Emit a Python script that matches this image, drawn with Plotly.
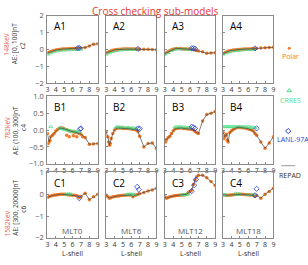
import plotly.graph_objects as go

W, H = 308, 265

panels = ["A1", "A2", "A3", "A4", "B1", "B2", "B3", "B4", "C1", "C2", "C3", "C4"]
mlt_labels = ["MLT0", "MLT6", "MLT12", "MLT18"]
energy_labels = ["148keV", "782keV", "1582keV"]
ae_labels = ["AE: [0, 100]nT", "AE: (100, 300]nT", "AE: [300, 20000]nT"]
coef_labels = ["c2", "c4", "c6"]
x_ticks = [3, 4, 5, 6, 7, 8, 9]
y_ticks_A = [-2, -1, 0, 1, 2]
y_ticks_B = [-1.0, -0.5, 0.0, 0.5, 1.0]
y_ticks_C = [-2, -1, 0, 1]

# REPAD model curve (and Polar points on it), on a common L grid
L_grid = [3.0, 3.2, 3.4, 3.6, 3.8, 4.0, 4.2, 4.4, 4.6, 4.8, 5.0, 5.2, 5.4,
          5.6, 5.8, 6.0, 6.2, 6.4, 6.6, 6.8, 7.0, 7.5, 8.0, 8.5, 9.0]
repad = {
    "A1": [-0.22, -0.18, -0.14, -0.10, -0.07, -0.05, -0.03, -0.01, 0.00, 0.01, 0.02, 0.02, 0.03,
           0.03, 0.04, 0.04, 0.05, 0.05, 0.06, 0.07, 0.08, 0.10, 0.20, 0.30, 0.32],
    "A2": [-0.22, -0.18, -0.13, -0.09, -0.06, -0.04, -0.02, -0.01, 0.00, 0.00, 0.01, 0.01, 0.01,
           0.01, 0.01, 0.01, 0.01, 0.01, 0.01, 0.01, 0.00, 0.00, 0.00, -0.02, -0.03],
    "A3": [-0.25, -0.20, -0.14, -0.08, -0.03, 0.00, 0.03, 0.05, 0.05, 0.04, 0.03, 0.02, 0.02,
           0.01, 0.00, 0.00, -0.01, -0.02, -0.04, -0.07, -0.10, -0.15, -0.24, -0.22, -0.20],
    "A4": [-0.25, -0.20, -0.16, -0.12, -0.09, -0.07, -0.05, -0.04, -0.03, -0.02, -0.01, 0.00, 0.00,
           0.01, 0.01, 0.02, 0.02, 0.03, 0.03, 0.04, 0.05, 0.07, 0.09, 0.11, 0.12],
    "B1": [-0.10, -0.35, -0.20, -0.15, -0.10, -0.03, 0.02, 0.05, 0.06, 0.06, 0.04, 0.02, 0.00,
           -0.02, -0.04, -0.05, -0.06, -0.07, -0.08, -0.10, -0.12, -0.22, -0.42, -0.41, -0.40],
    "B2": [-0.05, -0.20, -0.45, -0.25, -0.10, 0.00, 0.05, 0.06, 0.06, 0.06, 0.05, 0.05, 0.05,
           0.05, 0.04, 0.03, 0.02, 0.02, 0.00, -0.05, -0.18, -0.50, -0.40, -0.38, -0.55],
    "B3": [-0.30, -0.28, -0.22, -0.18, -0.10, -0.02, 0.03, 0.05, 0.06, 0.06, 0.06, 0.05, 0.05,
           0.04, 0.03, 0.03, 0.02, 0.00, -0.04, -0.08, -0.10, 0.27, 0.46, 0.50, 0.55],
    "B4": [-0.07, -0.20, -0.12, -0.35, -0.07, -0.02, 0.02, 0.05, 0.07, 0.08, 0.08, 0.07, 0.07,
           0.06, 0.05, 0.04, 0.02, 0.00, -0.03, -0.10, -0.15, -0.35, -0.54, -0.38, -0.20],
    "C1": [-0.15, -0.10, -0.08, -0.06, -0.04, -0.03, -0.02, -0.01, 0.00, 0.00, 0.00, -0.01, -0.02,
           -0.03, -0.04, -0.05, -0.05, -0.06, -0.08, -0.15, -0.10, 0.05, -0.25, -0.12, 0.00],
    "C2": [-0.05, -0.12, -0.18, -0.15, -0.12, -0.10, -0.09, -0.08, -0.07, -0.06, -0.05, -0.05, -0.04,
           -0.04, -0.03, -0.03, -0.12, -0.05, -0.03, 0.00, 0.02, 0.08, 0.15, 0.20, 0.28],
    "C3": [-0.12, -0.18, -0.15, -0.12, -0.10, -0.08, -0.07, -0.06, -0.05, -0.05, -0.04, -0.03, -0.02,
           0.00, 0.08, 0.12, 0.20, 0.45, 0.65, 0.80, 0.87, 0.87, 0.76, 0.58, 0.40],
    "C4": [-0.02, -0.04, -0.05, -0.05, -0.04, -0.03, -0.02, -0.01, 0.00, 0.00, 0.00, 0.00, -0.01,
           -0.01, -0.02, -0.02, -0.03, -0.04, -0.05, -0.10, -0.05, -0.18, 0.00, 0.12, 0.28],
}

# Polar observations: on the REPAD grid plus scattered outliers
polar_extra_L = {
    "A1": [], "A2": [], "A3": [], "A4": [],
    "B1": [3.1, 3.3, 5.3, 5.6, 6.1, 6.5, 7.2],
    "B2": [3.3, 3.5],
    "B3": [3.1],
    "B4": [3.1, 3.3, 3.5],
    "C1": [], "C2": [], "C3": [], "C4": [],
}
polar_extra_v = {
    "A1": [], "A2": [], "A3": [], "A4": [],
    "B1": [-0.40, -0.30, -0.15, -0.20, -0.17, -0.20, -0.20],
    "B2": [-0.35, -0.40],
    "B3": [-0.35],
    "B4": [-0.25, -0.15, -0.30],
    "C1": [], "C2": [], "C3": [], "C4": [],
}

# CRRES
crres_L = {
    "A1": [3.0, 3.4, 3.8, 4.2, 4.6, 5.0, 5.4, 5.8, 6.2, 6.6, 7.0],
    "A2": [3.0, 3.4, 3.8, 4.2, 4.6, 5.0, 5.4, 5.8, 6.2, 6.6],
    "A3": [3.0, 3.4, 3.8, 4.2, 4.6, 5.0, 5.4, 5.8, 6.2],
    "A4": [3.0, 3.4, 3.8, 4.2, 4.6, 5.0, 5.4, 5.8, 6.2, 6.6],
    "B1": [3.4, 4.4, 4.6, 4.8, 5.0, 5.2, 5.4, 5.6, 5.8, 6.0, 6.2, 6.4, 6.6, 6.8],
    "B2": [4.2, 4.4, 4.6, 4.8, 5.0, 5.2, 5.4, 5.6, 5.8, 6.0, 6.2, 6.4, 6.6],
    "B3": [4.2, 4.4, 4.6, 4.8, 5.0, 5.2, 5.4, 5.6, 5.8, 6.0],
    "B4": [3.0, 3.2, 3.4, 3.6, 3.8, 4.0, 4.2, 4.4, 4.6, 4.8, 5.0, 5.2, 5.4, 5.6, 5.8, 6.0,
           6.2, 6.4, 6.6, 6.8],
    "C1": [5.2, 5.4, 5.6, 5.8],
    "C2": [5.4, 5.6, 5.8, 6.0, 6.2, 6.4],
    "C3": [5.0, 5.2, 5.4, 5.6, 5.8],
    "C4": [3.0, 3.2, 3.4, 4.4, 4.6, 4.8, 5.0, 5.8, 6.2, 6.6],
}
crres_v = {
    "A1": [-0.30, -0.22, -0.15, -0.10, -0.07, -0.05, -0.04, -0.03, -0.02, -0.01, 0.00],
    "A2": [-0.30, -0.22, -0.14, -0.08, -0.05, -0.03, -0.02, -0.01, -0.01, -0.01],
    "A3": [-0.30, -0.20, -0.08, 0.00, 0.02, 0.01, 0.00, -0.01, -0.02],
    "A4": [-0.30, -0.22, -0.16, -0.11, -0.08, -0.06, -0.04, -0.03, -0.02, -0.01],
    "B1": [0.10, 0.06, 0.05, 0.04, 0.02, 0.01, 0.00, -0.02, -0.03, -0.04, -0.04, -0.05, -0.05, -0.06],
    "B2": [0.09, 0.09, 0.08, 0.08, 0.08, 0.07, 0.07, 0.07, 0.06, 0.06, 0.06, 0.05, 0.05],
    "B3": [0.09, 0.09, 0.09, 0.09, 0.08, 0.08, 0.08, 0.07, 0.07, 0.07],
    "B4": [0.10, 0.10, 0.10, 0.10, 0.10, 0.10, 0.10, 0.10, 0.10, 0.10, 0.10, 0.10, 0.09, 0.09,
           0.09, 0.09, 0.09, 0.08, 0.08, 0.07],
    "C1": [0.00, 0.00, 0.01, 0.00],
    "C2": [-0.02, -0.01, 0.00, 0.00, -0.01, -0.02],
    "C3": [-0.03, -0.02, -0.02, -0.01, 0.00],
    "C4": [-0.02, -0.03, -0.03, 0.00, 0.01, 0.00, 0.00, -0.02, -0.02, -0.03],
}

# LANL-97A
lanl_L = {
    "A1": [6.6, 6.8], "A2": [6.8], "A3": [6.2, 6.4, 6.6], "A4": [6.8],
    "B1": [6.9, 7.0], "B2": [6.8, 7.0], "B3": [6.2, 6.4, 6.6], "B4": [7.0],
    "C1": [6.8], "C2": [6.7, 6.9], "C3": [6.2, 6.5, 6.7], "C4": [6.8, 7.0],
}
lanl_v = {
    "A1": [0.06, 0.08], "A2": [0.02], "A3": [0.06, 0.06, 0.04], "A4": [0.05],
    "B1": [0.03, 0.05], "B2": [0.05, 0.04], "B3": [0.10, 0.08, 0.05], "B4": [0.05],
    "C1": [-0.18], "C2": [0.34, 0.21], "C3": [0.14, 0.41, 0.67], "C4": [-0.05, 0.25],
}

ORANGE = "#f07c2c"
GREEN = "#4fe08a"
BLUE = "#2a3fd0"
LINE = "#444444"
RED = "#e8352c"
RED_L = "#ee5a55"

# layout geometry (pixels)
col_left = [46, 105.5, 165, 224]
col_w = 51
rows = [(11, 81), (95, 165), (174, 242)]
y_ranges = [[-2, 2], [-1, 1], [-2, 1]]
y_tickvals = [y_ticks_A, y_ticks_B, y_ticks_C]

fig = go.Figure()
layout = dict(width=W, height=H, margin=dict(l=0, r=0, t=0, b=0),
              paper_bgcolor="white", plot_bgcolor="rgba(0,0,0,0)", showlegend=False,
              font=dict(family="Open Sans", size=8, color="#333"))
annotations = []

for i, p in enumerate(panels):
    r, c = divmod(i, 4)
    n = i + 1
    xa = "x" if n == 1 else f"x{n}"
    ya = "y" if n == 1 else f"y{n}"
    top, bot = rows[r]
    layout["xaxis" if n == 1 else f"xaxis{n}"] = dict(
        domain=[col_left[c] / W, (col_left[c] + col_w) / W], anchor=ya,
        range=[3, 9], tickvals=x_ticks, showgrid=False, zeroline=False,
        showline=True, mirror=True, linecolor="#8a8a8a", linewidth=1,
        ticks="inside", ticklen=2, tickcolor="#8a8a8a",
        tickfont=dict(size=7, color="#333"), ticklabelstandoff=0)
    ydict = dict(
        domain=[1 - bot / H, 1 - top / H], anchor=xa, range=y_ranges[r],
        tickvals=y_tickvals[r], showgrid=False, zeroline=False,
        showline=True, mirror=True, linecolor="#8a8a8a", linewidth=1,
        ticks="inside", ticklen=2, tickcolor="#8a8a8a",
        showticklabels=(c == 0), tickfont=dict(size=7.5, color="#555"),
        ticklabelstandoff=1)
    if r == 1:
        ydict["tickformat"] = ".1f"
    layout["yaxis" if n == 1 else f"yaxis{n}"] = ydict

    fig.add_trace(go.Scatter(x=L_grid, y=repad[p], mode="markers", xaxis=xa, yaxis=ya,
                             marker=dict(color=ORANGE, size=3.5, line=dict(width=0))))
    fig.add_trace(go.Scatter(x=polar_extra_L[p], y=polar_extra_v[p], mode="markers",
                             xaxis=xa, yaxis=ya,
                             marker=dict(color=ORANGE, size=3.5, line=dict(width=0))))
    fig.add_trace(go.Scatter(x=crres_L[p], y=crres_v[p], mode="markers", xaxis=xa, yaxis=ya,
                             marker=dict(symbol="triangle-up-open", color=GREEN, size=3.5,
                                         line=dict(width=0.8))))
    fig.add_trace(go.Scatter(x=L_grid, y=repad[p], mode="lines", xaxis=xa, yaxis=ya,
                             line=dict(color=LINE, width=0.7)))
    fig.add_trace(go.Scatter(x=lanl_L[p], y=lanl_v[p], mode="markers", xaxis=xa, yaxis=ya,
                             marker=dict(symbol="diamond-open", color=BLUE, size=4,
                                         line=dict(width=0.8))))

    annotations.append(dict(text=p, xref=f"{xa} domain", yref=f"{ya} domain",
                            x=0.1, y=0.98, xanchor="left", yanchor="top", showarrow=False,
                            font=dict(size=10, color="black")))
    if r == 2:
        annotations.append(dict(text=mlt_labels[c], xref=f"{xa} domain", yref=f"{ya} domain",
                                x=0.5, y=0.0, xanchor="center", yanchor="bottom",
                                showarrow=False, font=dict(size=8, color="#555")))
        annotations.append(dict(text="L-shell", xref="paper", yref="paper",
                                x=(col_left[c] + col_w / 2) / W, y=0.0,
                                xanchor="center", yanchor="bottom", showarrow=False,
                                font=dict(size=7, color="#333")))

# left row labels
kev_y = [41, 128, 227]
ae_y = [40, 130, 211]
coef_y = [42, 127, 212]
for r in range(3):
    annotations.append(dict(text=energy_labels[r], xref="paper", yref="paper",
                            x=5 / W, y=1 - kev_y[r] / H, textangle=-90, showarrow=False,
                            xanchor="center", yanchor="middle",
                            font=dict(size=6.5, color=RED_L)))
    annotations.append(dict(text=ae_labels[r], xref="paper", yref="paper",
                            x=13 / W, y=1 - ae_y[r] / H, textangle=-90, showarrow=False,
                            xanchor="center", yanchor="middle",
                            font=dict(size=6.5, color="#333")))
    annotations.append(dict(text=coef_labels[r], xref="paper", yref="paper",
                            x=21 / W, y=1 - coef_y[r] / H, textangle=-90, showarrow=False,
                            xanchor="center", yanchor="middle",
                            font=dict(size=6.5, color="#333")))

annotations.append(dict(text="Cross checking sub-models", xref="paper", yref="paper",
                        x=156 / W, y=1 - 6 / H, xanchor="center", yanchor="middle",
                        showarrow=False, font=dict(size=10, color=RED)))

# legend (custom, on a hidden pixel axis in the right margin)
LX0 = 270
layout["xaxis13"] = dict(domain=[LX0 / W, 1], range=[LX0, W], visible=False, anchor="y13",
                         fixedrange=True)
layout["yaxis13"] = dict(domain=[0, 1], range=[H, 0], visible=False, anchor="x13",
                         fixedrange=True)
leg_names = ["Polar", "CRRES", "LANL-97A", "REPAD"]
leg_colors = [ORANGE, GREEN, BLUE, "#333"]
leg_sym_y = [45, 89, 131, 167]
leg_txt_y = [54, 99, 140, 177]
fig.add_trace(go.Scatter(x=[291], y=[leg_sym_y[0]], mode="markers", xaxis="x13", yaxis="y13",
                         marker=dict(color=ORANGE, size=3)))
fig.add_trace(go.Scatter(x=[291], y=[leg_sym_y[1]], mode="markers", xaxis="x13", yaxis="y13",
                         marker=dict(symbol="triangle-up-open", color=GREEN, size=4,
                                     line=dict(width=1))))
fig.add_trace(go.Scatter(x=[290], y=[leg_sym_y[2]], mode="markers", xaxis="x13", yaxis="y13",
                         marker=dict(symbol="diamond-open", color=BLUE, size=4,
                                     line=dict(width=1))))
fig.add_trace(go.Scatter(x=[283, 297], y=[leg_sym_y[3], leg_sym_y[3]], mode="lines",
                         xaxis="x13", yaxis="y13", line=dict(color="#999", width=1)))
for k in range(4):
    if k == 2:
        annotations.append(dict(text=leg_names[k], xref="paper", yref="paper", x=277 / W,
                                y=1 - leg_txt_y[k] / H, xanchor="left", yanchor="middle",
                                showarrow=False, font=dict(size=7, color=leg_colors[k])))
    else:
        annotations.append(dict(text=leg_names[k], xref="paper", yref="paper", x=292 / W,
                                y=1 - leg_txt_y[k] / H, xanchor="center", yanchor="middle",
                                showarrow=False, font=dict(size=7, color=leg_colors[k])))

layout["annotations"] = annotations
fig.update_layout(**layout)
fig.write_html("out.html")
